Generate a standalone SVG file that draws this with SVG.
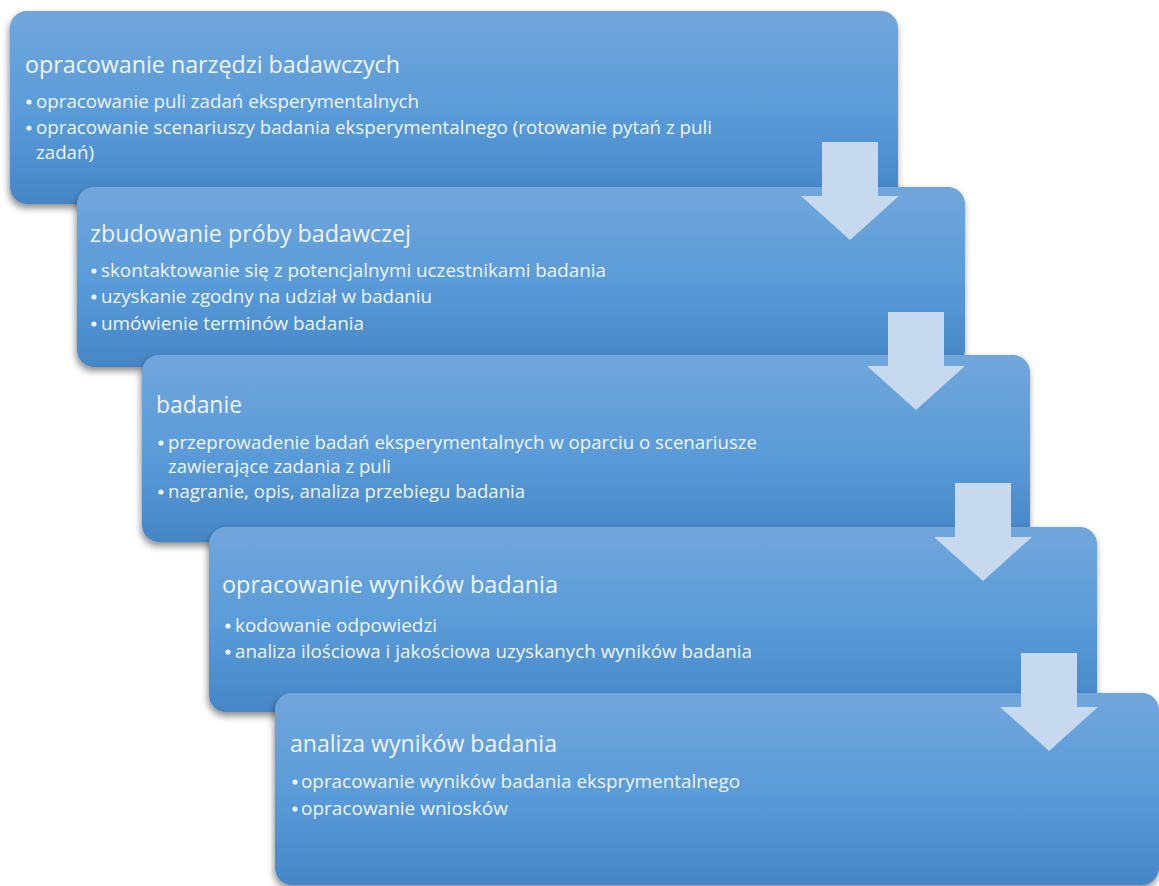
<svg xmlns="http://www.w3.org/2000/svg" width="1159" height="886" viewBox="0 0 1159 886">
<defs>
<linearGradient id="g" x1="0" y1="0" x2="0" y2="1">
<stop offset="0" stop-color="#71a6dc"/>
<stop offset="0.5" stop-color="#5b9cd9"/>
<stop offset="1" stop-color="#4586c7"/>
</linearGradient>
<filter id="sh" x="-5%" y="-10%" width="110%" height="125%">
<feDropShadow dx="-1" dy="4" stdDeviation="3.5" flood-color="#000" flood-opacity="0.45"/>
</filter>
</defs>
<style>
.box{fill:url(#g);filter:url(#sh)}
.t{font-family:"Open Sans","Liberation Sans",sans-serif;fill:#eef4fb}
.ti{font-size:23px}
.b{font-size:18.5px}
.dot{fill:#eef4fb}
.arr{fill:#c6d9ef}
</style>
<rect width="1159" height="886" fill="#ffffff"/>
<g id="node1">
<rect class="box" x="10" y="11" width="888" height="193" rx="17"/>
<text class="t ti" x="25" y="73" textLength="375" lengthAdjust="spacingAndGlyphs">opracowanie narzędzi badawczych</text>
<circle class="dot" cx="29" cy="102" r="2.6"/>
<text class="t b" x="36" y="108" textLength="383" lengthAdjust="spacingAndGlyphs">opracowanie puli zadań eksperymentalnych</text>
<circle class="dot" cx="29" cy="128" r="2.6"/>
<text class="t b" x="36" y="134" textLength="676" lengthAdjust="spacingAndGlyphs">opracowanie scenariuszy badania eksperymentalnego (rotowanie pytań z puli</text>
<text class="t b" x="36" y="159" textLength="58" lengthAdjust="spacingAndGlyphs">zadań)</text>
</g>
<g id="node2">
<rect class="box" x="77" y="187" width="888" height="180" rx="17"/>
<text class="t ti" x="90" y="242" textLength="321" lengthAdjust="spacingAndGlyphs">zbudowanie próby badawczej</text>
<circle class="dot" cx="94" cy="271" r="2.6"/>
<text class="t b" x="101" y="277" textLength="505" lengthAdjust="spacingAndGlyphs">skontaktowanie się z potencjalnymi uczestnikami badania</text>
<circle class="dot" cx="94" cy="297" r="2.6"/>
<text class="t b" x="101" y="303" textLength="331" lengthAdjust="spacingAndGlyphs">uzyskanie zgodny na udział w badaniu</text>
<circle class="dot" cx="94" cy="324" r="2.6"/>
<text class="t b" x="101" y="330" textLength="263" lengthAdjust="spacingAndGlyphs">umówienie terminów badania</text>
</g>
<g id="node3">
<rect class="box" x="142" y="355" width="888" height="187" rx="17"/>
<text class="t ti" x="156" y="413" textLength="86" lengthAdjust="spacingAndGlyphs">badanie</text>
<circle class="dot" cx="161" cy="443" r="2.6"/>
<text class="t b" x="168" y="449" textLength="589" lengthAdjust="spacingAndGlyphs">przeprowadenie badań eksperymentalnych w oparciu o scenariusze</text>
<text class="t b" x="168" y="473" textLength="223" lengthAdjust="spacingAndGlyphs">zawierające zadania z puli</text>
<circle class="dot" cx="161" cy="492" r="2.6"/>
<text class="t b" x="168" y="498" textLength="357" lengthAdjust="spacingAndGlyphs">nagranie, opis, analiza przebiegu badania</text>
</g>
<g id="node4">
<rect class="box" x="209" y="527" width="888" height="185" rx="17"/>
<text class="t ti" x="222" y="593" textLength="336" lengthAdjust="spacingAndGlyphs">opracowanie wyników badania</text>
<circle class="dot" cx="228" cy="626" r="2.6"/>
<text class="t b" x="235" y="632" textLength="202" lengthAdjust="spacingAndGlyphs">kodowanie odpowiedzi</text>
<circle class="dot" cx="228" cy="652" r="2.6"/>
<text class="t b" x="235" y="658" textLength="517" lengthAdjust="spacingAndGlyphs">analiza ilościowa i jakościowa uzyskanych wyników badania</text>
</g>
<g id="node5">
<rect class="box" x="275" y="693" width="884" height="192" rx="17"/>
<text class="t ti" x="290" y="752" textLength="267" lengthAdjust="spacingAndGlyphs">analiza wyników badania</text>
<circle class="dot" cx="295" cy="782" r="2.6"/>
<text class="t b" x="301" y="788" textLength="439" lengthAdjust="spacingAndGlyphs">opracowanie wyników badania eksprymentalnego</text>
<circle class="dot" cx="295" cy="809" r="2.6"/>
<text class="t b" x="301" y="815" textLength="207" lengthAdjust="spacingAndGlyphs">opracowanie wniosków</text>
</g>
<g id="connectors">
<polygon class="arr" points="822,142 878,142 878,196 899,196 850,240 801,196 822,196"/>
<polygon class="arr" points="888,312 944,312 944,366 965,366 916,410 867,366 888,366"/>
<polygon class="arr" points="955,483 1011,483 1011,537 1032,537 983,581 934,537 955,537"/>
<polygon class="arr" points="1021,653 1077,653 1077,707 1098,707 1049,751 1000,707 1021,707"/>
</g>
</svg>
